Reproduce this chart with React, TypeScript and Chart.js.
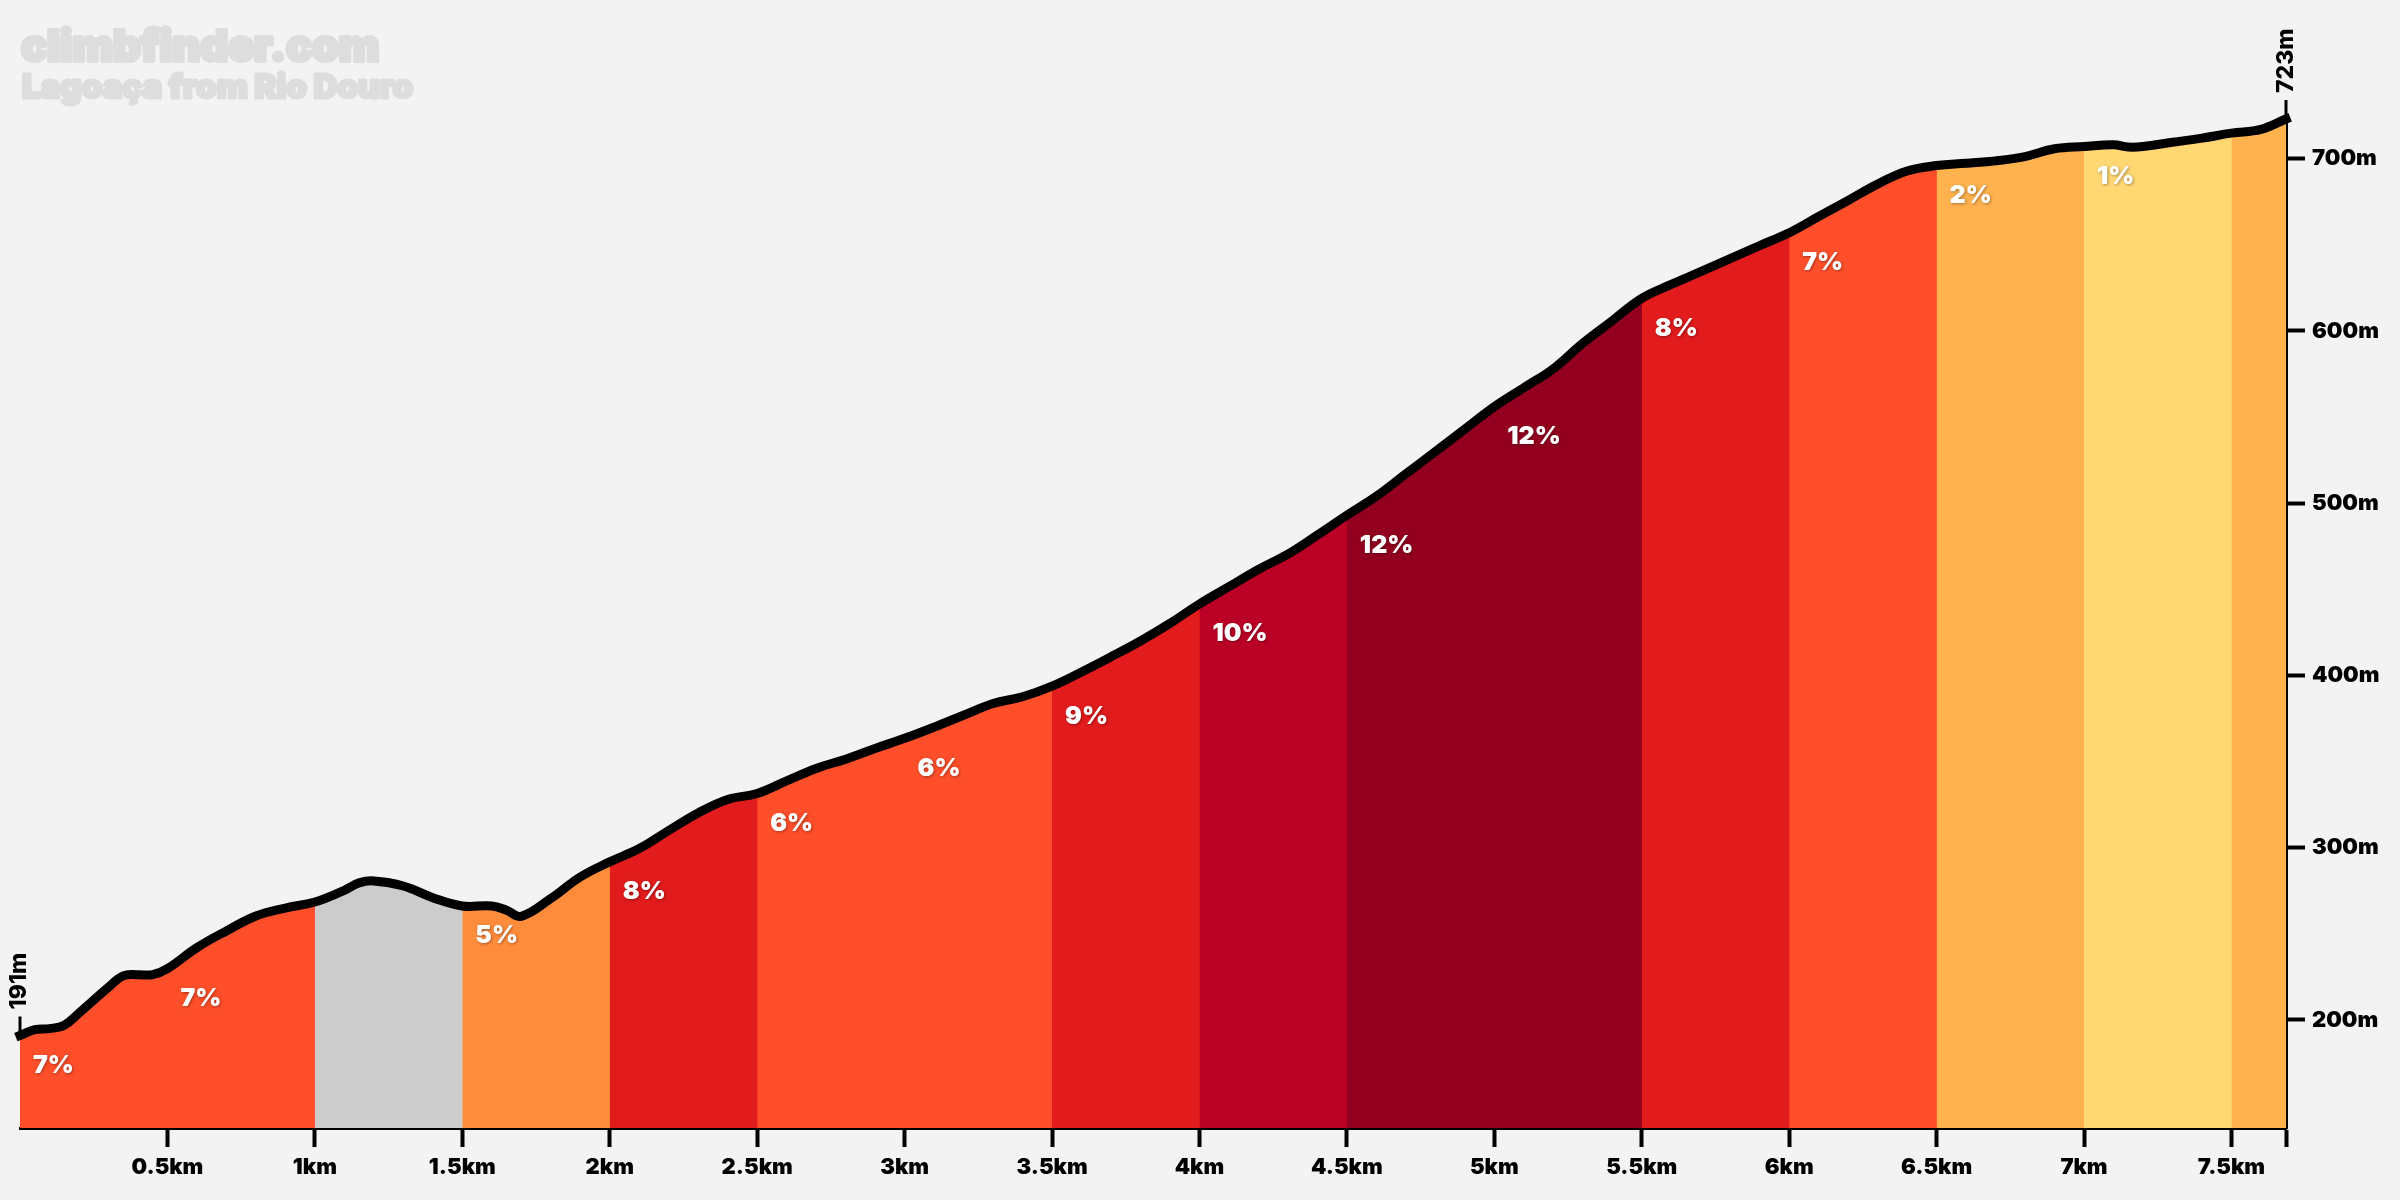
import React, { useEffect, useRef } from "react"
import Chart from "chart.js/auto"

const siteName = "climbfinder.com"
const climbName = "Lagoaça from Rio Douro"

// distance along the climb (km) and elevation (m)
const distances = [
  0, 0.05, 0.1, 0.15, 0.2, 0.3, 0.35, 0.4, 0.45, 0.5, 0.6, 0.7, 0.8, 0.9, 1, 1.1, 1.15, 1.2, 1.3, 1.4, 1.5,
  1.6, 1.65, 1.7, 1.8, 1.9, 2, 2.1, 2.2, 2.3, 2.4, 2.5, 2.6, 2.7, 2.8, 2.9, 3, 3.1, 3.2, 3.3, 3.4, 3.5,
  3.6, 3.7, 3.8, 3.9, 4, 4.1, 4.2, 4.3, 4.4, 4.5, 4.6, 4.7, 4.8, 4.9, 5, 5.1, 5.2, 5.3, 5.4, 5.5,
  5.6, 5.7, 5.8, 5.9, 6, 6.1, 6.2, 6.3, 6.4, 6.5, 6.6, 6.7, 6.8, 6.9, 7, 7.1, 7.15, 7.2, 7.3, 7.4, 7.5, 7.6, 7.685,
]
const elevations = [
  191, 194.4, 195, 197, 204, 219, 225.6, 226.3, 226.3, 229.8, 242, 251.7, 260.4, 265, 268.5, 275.3, 279.6, 280.7, 277.8, 271, 266.2,
  266.2, 263.7, 260.2, 270.5, 283, 291.8, 299.5, 310, 320.2, 328, 331.5, 338.8, 346, 351.4, 357.6, 363.5, 370, 376.9, 383.7, 387.6, 393.8,
  402, 410.8, 420, 430.2, 441.5, 451.5, 461.5, 470.4, 481.5, 493, 504, 517, 529.9, 543, 556, 567, 578, 592.8, 605.9, 618.9,
  627, 634.4, 642, 649.5, 657, 666.4, 675.7, 685.2, 692.8, 696, 697.3, 698.7, 701.2, 705.7, 707, 708, 706.7, 707, 709.5, 711.9, 714.8, 717, 723,
]

const bandStarts = [0, 1, 1.5, 2, 2.5, 3.5, 4, 4.5, 5.5, 6, 6.5, 7, 7.5]
const bandColors = [
  "#FF4F2A", "#CCCCCC", "#FF8C3B", "#E21B1C", "#FF4F2A", "#E21B1C", "#BB0025",
  "#93001F", "#E21B1C", "#FF4F2A", "#FFB24D", "#FFD873", "#FFB24D",
]

const gradeStarts = [0, 0.5, 1.5, 2, 2.5, 3, 3.5, 4, 4.5, 5, 5.5, 6, 6.5, 7]
const gradeLabels = ["7%", "7%", "5%", "8%", "6%", "6%", "9%", "10%", "12%", "12%", "8%", "7%", "2%", "1%"]

const xTicks = [0, 0.5, 1, 1.5, 2, 2.5, 3, 3.5, 4, 4.5, 5, 5.5, 6, 6.5, 7, 7.5, 7.685]
const yTicks = [200, 300, 400, 500, 600, 700]

const FONT = "Inter, 'DejaVu Sans', sans-serif"
const END_KM = distances[distances.length - 1]

const profile = distances.map((km, i) => ({ x: km, y: elevations[i] }))

// watermark title, % labels and the start/finish height markers
const annotations = {
  id: "annotations",
  afterDraw(chart: Chart) {
    const { ctx } = chart
    const x = chart.scales.x
    const y = chart.scales.y
    ctx.save()

    ctx.lineJoin = "round"
    ctx.textAlign = "left"
    ctx.textBaseline = "alphabetic"
    ctx.fillStyle = "#DDDDDD"
    ctx.strokeStyle = "#DDDDDD"
    ctx.font = `900 43px ${FONT}`
    ctx.lineWidth = 4
    ctx.strokeText(siteName, 21, 61)
    ctx.fillText(siteName, 21, 61)
    ctx.font = `900 33px ${FONT}`
    ctx.lineWidth = 3
    ctx.strokeText(climbName, 22, 98)
    ctx.fillText(climbName, 22, 98)

    ctx.font = `900 25px ${FONT}`
    ctx.textBaseline = "middle"
    ctx.fillStyle = "#FFFFFF"
    ctx.shadowColor = "rgba(0,0,0,0.35)"
    ctx.shadowBlur = 3
    ctx.shadowOffsetX = 1
    ctx.shadowOffsetY = 1
    gradeStarts.forEach((km, i) => {
      const h = elevations[distances.indexOf(km)]
      ctx.fillText(gradeLabels[i], x.getPixelForValue(km) + 13, y.getPixelForValue(h) + 30)
    })
    ctx.shadowColor = "transparent"
    ctx.shadowBlur = 0
    ctx.shadowOffsetX = 0
    ctx.shadowOffsetY = 0

    const ends = [
      { km: 0, h: elevations[0], dx: -1 },
      { km: END_KM, h: elevations[elevations.length - 1], dx: 0 },
    ]
    ctx.fillStyle = "#000"
    ctx.strokeStyle = "#000"
    ctx.lineWidth = 3
    ctx.font = `800 23px ${FONT}`
    ends.forEach(({ km, h, dx }) => {
      const px = x.getPixelForValue(km)
      const py = y.getPixelForValue(h)
      ctx.beginPath()
      ctx.moveTo(px, py)
      ctx.lineTo(px, py - 19)
      ctx.stroke()
      ctx.save()
      ctx.translate(px + dx, py - 26)
      ctx.rotate(-Math.PI / 2)
      ctx.fillText(`${h}m`, 0, 0)
      ctx.restore()
    })
    ctx.restore()
  },
}

export default function App() {
  const canvasRef = useRef<HTMLCanvasElement>(null)

  useEffect(() => {
    if (!canvasRef.current) return
    // each band runs to the end of the climb and the next one paints over it,
    // so no background shows through at the band edges
    const bandDatasets = bandStarts.map((start, i) => ({
      data: profile.filter((p) => p.x >= start),
      borderWidth: 0,
      pointRadius: 0,
      tension: 0.4,
      fill: "start",
      backgroundColor: bandColors[i],
      order: bandStarts.length - i,
    }))
    const chart = new Chart(canvasRef.current, {
      type: "line",
      data: {
        datasets: [
          ...bandDatasets,
          {
            data: profile,
            borderColor: "#000",
            borderWidth: 9,
            borderCapStyle: "square",
            borderJoinStyle: "round",
            pointRadius: 0,
            tension: 0.4,
            clip: false,
            fill: false,
            order: 0,
          },
        ],
      },
      options: {
        responsive: false,
        animation: false,
        devicePixelRatio: 1,
        layout: { padding: { left: 20, top: 119, right: 0, bottom: 0 } },
        plugins: { legend: { display: false }, tooltip: { enabled: false }, title: { display: false } },
        scales: {
          x: {
            type: "linear",
            min: 0,
            max: END_KM,
            z: 1,
            afterBuildTicks: (scale: any) => {
              scale.ticks = xTicks.map((value) => ({ value }))
            },
            afterFit: (scale: any) => {
              scale.height = 72
            },
            grid: {
              drawOnChartArea: false,
              tickLength: 19,
              tickWidth: (ctx: any) => (ctx.tick && ctx.tick.value === 0 ? 0 : 4),
              tickColor: "#000",
            },
            border: { display: true, color: "#000", width: 3 },
            ticks: {
              autoSkip: false,
              maxRotation: 0,
              padding: 7,
              color: "#000",
              font: { family: FONT, size: 22, weight: "900" },
              callback: (value: any) => (value === 0 || value === END_KM ? "" : `${value}km`),
            },
          },
          y: {
            type: "linear",
            position: "right",
            min: 137.3,
            max: 723,
            z: 1,
            afterBuildTicks: (scale: any) => {
              scale.ticks = yTicks.map((value) => ({ value }))
            },
            afterFit: (scale: any) => {
              scale.width = 114
            },
            grid: { drawOnChartArea: false, tickLength: 19, tickWidth: 4, tickColor: "#000" },
            border: { display: true, color: "#000", width: 3 },
            ticks: {
              padding: 7,
              color: "#000",
              font: { family: FONT, size: 22, weight: "900" },
              callback: (value: any) => `${value}m`,
            },
          },
        },
      },
      plugins: [annotations],
    })
    return () => chart.destroy()
  }, [])

  return (
    <div style={{ position: "fixed", inset: 0, background: "#F3F3F3" }}>
      <canvas ref={canvasRef} width={2400} height={1200} style={{ display: "block" }} />
    </div>
  )
}
